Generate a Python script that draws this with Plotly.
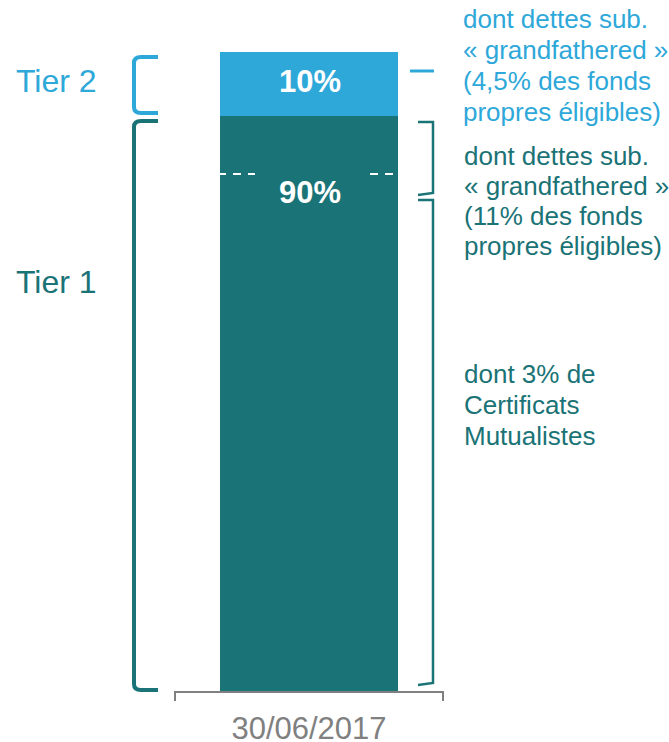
"""Structure des fonds propres éligibles au 30/06/2017 (Tier 1 / Tier 2)."""

import plotly.graph_objects as go

# Données
dates = ["30/06/2017"]
tiers = ["Tier 1", "Tier 2"]
parts = [90, 10]  # en % des fonds propres éligibles

notes_tier2 = ["dont dettes sub.", "« grandfathered »", "(4,5% des fonds", "propres éligibles)"]
notes_tier1 = ["dont dettes sub.", "« grandfathered »", "(11% des fonds", "propres éligibles)"]
notes_cm = ["dont 3% de", "Certificats", "Mutualistes"]

COLORES = {"Tier 1": "#1a7376", "Tier 2": "#2ea8d9"}
GRIS = "#808080"
POLICE = "Liberation Sans, Arial, sans-serif"

W, H = 669, 742
TOP, BOTTOM = 52, 691  # zone de tracé en pixels


def px(x):
    return x / W


def py(y):
    return (BOTTOM - y) / (BOTTOM - TOP)


fig = go.Figure()

for tier, valeur in zip(tiers, parts):
    fig.add_trace(
        go.Bar(
            x=dates,
            y=[valeur],
            name=tier,
            marker_color=COLORES[tier],
            marker_line_width=0,
            width=178 / 200,
            showlegend=False,
            hoverinfo="skip",
        )
    )

shapes = []


def chemin(points, couleur, largeur, dash=None):
    d = "M " + " L ".join(f"{px(x):.5f},{py(y):.5f}" for x, y in points)
    ligne = dict(color=couleur, width=largeur)
    if dash:
        ligne["dash"] = dash
    shapes.append(dict(type="path", path=d, xref="paper", yref="paper", line=ligne))


def accolade_gauche(y0, y1, couleur):
    # crochet arrondi
    d = (
        f"M {px(158)},{py(y0)} L {px(141)},{py(y0)} "
        f"Q {px(134)},{py(y0)} {px(134)},{py(y0 + 6)} "
        f"L {px(134)},{py(y1 - 6)} "
        f"Q {px(134)},{py(y1)} {px(141)},{py(y1)} L {px(158)},{py(y1)}"
    )
    shapes.append(
        dict(type="path", path=d, xref="paper", yref="paper",
             line=dict(color=couleur, width=4))
    )


accolade_gauche(57, 113, COLORES["Tier 2"])
accolade_gauche(121, 690, COLORES["Tier 1"])

# accolades de droite
chemin([(418, 122), (433, 122), (433, 193), (418, 195)], COLORES["Tier 1"], 2.5)
chemin([(418, 200), (433, 200), (433, 683), (418, 685)], COLORES["Tier 1"], 2.5)
chemin([(410, 71), (434, 71)], COLORES["Tier 2"], 3)

# pointillés blancs
chemin([(203, 174), (255, 174)], "white", 2, "8px,7px")
chemin([(370, 174), (395, 174)], "white", 2, "8px,7px")

# axe
chemin([(175, 701), (175, 692), (443, 692), (443, 701)], GRIS, 2)

annotations = []


def texte(x, y, t, couleur, taille, gras=False, ancre="left"):
    annotations.append(
        dict(
            x=px(x), y=py(y), xref="paper", yref="paper", text=f"<b>{t}</b>" if gras else t,
            showarrow=False, xanchor=ancre, yanchor="middle",
            font=dict(family=POLICE, size=taille, color=couleur),
        )
    )


texte(14, 81, "Tier 2", COLORES["Tier 2"], 32)
texte(14, 282, "Tier 1", COLORES["Tier 1"], 32)
texte(310, 81, f"{parts[1]}%", "white", 31, gras=True, ancre="center")
texte(310, 193, f"{parts[0]}%", "white", 31, gras=True, ancre="center")

for i, ligne in enumerate(notes_tier2):
    texte(461, 19 + 31 * i, ligne, COLORES["Tier 2"], 26)
for i, ligne in enumerate(notes_tier1):
    texte(462, 156 + 30 * i, ligne, COLORES["Tier 1"], 26)
for i, ligne in enumerate(notes_cm):
    texte(462, 374 + 31 * i, ligne, COLORES["Tier 1"], 26)

fig.update_layout(
    barmode="stack",
    width=W,
    height=H,
    margin=dict(l=0, r=0, t=TOP, b=H - BOTTOM, pad=0, autoexpand=False),
    paper_bgcolor="white",
    plot_bgcolor="white",
    bargap=0,
    shapes=shapes,
    annotations=annotations,
    xaxis=dict(
        range=[-309 / 200, (W - 309) / 200],
        showgrid=False, zeroline=False, showline=False, ticks="",
        tickfont=dict(family=POLICE, size=31, color=GRIS),
        ticklabelstandoff=16,
        automargin=False,
        fixedrange=True,
    ),
    yaxis=dict(range=[0, 100], visible=False, fixedrange=True, automargin=False),
)

fig.write_html(
    "out.html",
    config={"displayModeBar": False},
    post_script="document.body.style.margin='0';document.body.style.overflow='hidden';",
)
